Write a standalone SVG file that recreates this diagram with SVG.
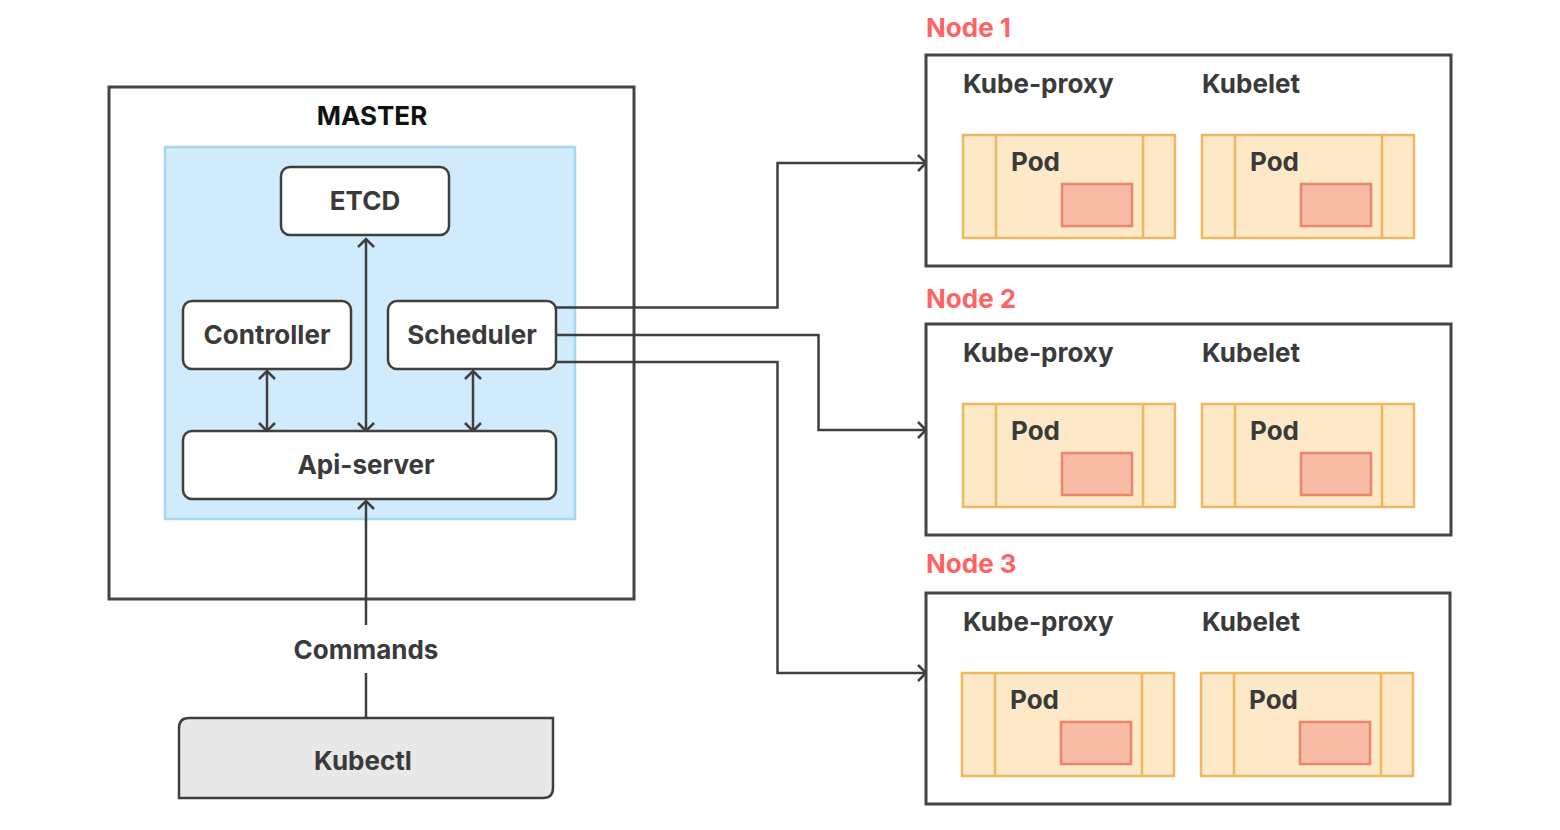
<svg xmlns="http://www.w3.org/2000/svg" width="1560" height="830" viewBox="0 0 1560 830">
<defs>
<style>
.t{font-family:Inter,"Noto Sans",sans-serif;font-weight:700;fill:#3a3a3a;font-size:26px}
.box{fill:#fff;stroke:#3f3f3f;stroke-width:2.5}
.frame{fill:#fff;stroke:#444;stroke-width:3}
.pod{fill:#fde9c8;stroke:#efb75e;stroke-width:2.5}
.div{stroke:#efb75e;stroke-width:2.5}
.ctr{fill:#f8bba6;stroke:#e8876a;stroke-width:2.5}
.nl{font-family:Inter,"Noto Sans",sans-serif;font-weight:700;fill:#ff6363;font-size:26px}
.ln{fill:none;stroke:#3f3f3f;stroke-width:2.5}
</style>
<marker id="ah" viewBox="-10 -10 20 20" markerWidth="20" markerHeight="20" refX="0" refY="0" orient="auto-start-reverse" markerUnits="userSpaceOnUse">
<path d="M-8,-8 L0,0 L-8,8" fill="none" stroke="#3f3f3f" stroke-width="2.5"/>
</marker>
<g id="podtpl">
<rect class="pod" x="0" y="0" width="212" height="103"/>
<line class="div" x1="33" y1="0" x2="33" y2="103"/>
<line class="div" x1="180" y1="0" x2="180" y2="103"/>
<text class="t" x="48" y="36">Pod</text>
<rect class="ctr" x="99" y="49" width="70" height="42"/>
</g>
</defs>
<rect width="1560" height="830" fill="#fff"/>

<g id="master">
<rect class="frame" x="109" y="87" width="525" height="512"/>
<text x="372" y="125" text-anchor="middle" style="font-family:Inter,'Noto Sans',sans-serif;font-weight:700;font-size:26px;fill:#111">MASTER</text>
<rect x="165" y="147" width="410" height="372" fill="#cfebfc" stroke="#a9d5ee" stroke-width="2.5"/>
</g>

<g id="connectors">
<line class="ln" x1="366" y1="239" x2="366" y2="431" marker-start="url(#ah)" marker-end="url(#ah)"/>
<line class="ln" x1="267" y1="371" x2="267" y2="431" marker-start="url(#ah)" marker-end="url(#ah)"/>
<line class="ln" x1="473" y1="371" x2="473" y2="431" marker-start="url(#ah)" marker-end="url(#ah)"/>
<line class="ln" x1="366" y1="625" x2="366" y2="501" marker-end="url(#ah)"/>
<line class="ln" x1="366" y1="673" x2="366" y2="718"/>
<polyline class="ln" points="556,307.5 777.5,307.5 777.5,163 926,163" marker-end="url(#ah)"/>
<polyline class="ln" points="556,335 818.5,335 818.5,430 926,430" marker-end="url(#ah)"/>
<polyline class="ln" points="556,362 777.5,362 777.5,673 926,673" marker-end="url(#ah)"/>
</g>

<g id="etcd">
<rect class="box" x="281" y="167" width="168" height="68" rx="9"/>
<text class="t" x="365" y="210" text-anchor="middle">ETCD</text>
</g>
<g id="controller">
<rect class="box" x="183" y="301" width="168" height="68" rx="9"/>
<text class="t" x="267" y="344" text-anchor="middle">Controller</text>
</g>
<g id="scheduler">
<rect class="box" x="388" y="301" width="168" height="68" rx="9"/>
<text class="t" x="472" y="344" text-anchor="middle">Scheduler</text>
</g>
<g id="apiserver">
<rect class="box" x="183" y="431" width="373" height="68" rx="9"/>
<text class="t" x="366" y="474" text-anchor="middle">Api-server</text>
</g>

<g id="commands">
<text class="t" x="366" y="659" text-anchor="middle">Commands</text>
</g>

<g id="kubectl">
<path d="M189,718 L553,718 L553,788 Q553,798 543,798 L179,798 L179,728 Q179,718 189,718 Z" fill="#e8e8e8" stroke="#3f3f3f" stroke-width="2.5"/>
<text class="t" x="363" y="770" text-anchor="middle">Kubectl</text>
</g>

<g id="node1">
<text class="nl" x="926" y="37">Node 1</text>
<rect class="frame" x="926" y="55" width="525" height="211"/>
<text class="t" x="963" y="93">Kube-proxy</text>
<text class="t" x="1202" y="93">Kubelet</text>
<use href="#podtpl" x="963" y="135"/>
<use href="#podtpl" x="1202" y="135"/>
</g>
<g id="node2">
<text class="nl" x="926" y="308">Node 2</text>
<rect class="frame" x="926" y="324" width="525" height="211"/>
<text class="t" x="963" y="362">Kube-proxy</text>
<text class="t" x="1202" y="362">Kubelet</text>
<use href="#podtpl" x="963" y="404"/>
<use href="#podtpl" x="1202" y="404"/>
</g>
<g id="node3">
<text class="nl" x="926" y="573">Node 3</text>
<rect class="frame" x="926" y="593" width="524" height="211"/>
<text class="t" x="963" y="631">Kube-proxy</text>
<text class="t" x="1202" y="631">Kubelet</text>
<use href="#podtpl" x="962" y="673"/>
<use href="#podtpl" x="1201" y="673"/>
</g>
</svg>
